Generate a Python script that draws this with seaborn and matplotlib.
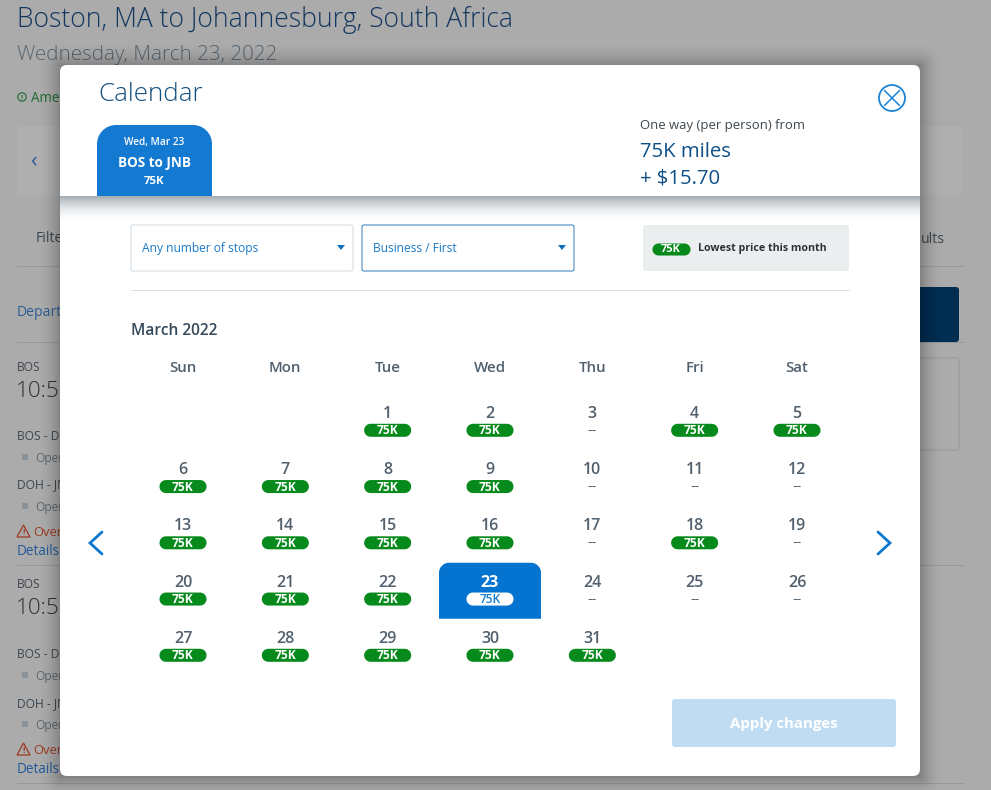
import numpy as np
import pandas as pd
import matplotlib
matplotlib.use("Agg")
import matplotlib.pyplot as plt
from matplotlib.patches import FancyBboxPatch, Rectangle, Circle, Polygon, PathPatch
from matplotlib.path import Path
import seaborn as sns

# ---- data ----
month_title = "March 2022"
weekdays = ["Sun", "Mon", "Tue", "Wed", "Thu", "Fri", "Sat"]
days = list(range(1, 32))
priced_days = [1, 2, 4, 5, 6, 7, 8, 9, 13, 14, 15, 16, 18, 20, 21, 22, 23, 27, 28, 29, 30, 31]
selected_day = 23
first_weekday = 2
price_label = "75K"
no_price_label = "--"

title = "Boston, MA to Johannesburg, South Africa"
subtitle = "Wednesday, March 23, 2022"
fare_lines = ["75K miles", "+ $15.70"]
stops_label = "Any number of stops"
cabin_label = "Business / First"

# ---- style ----
sns.set_theme(style="white")
plt.rcParams["font.family"] = ["Open Sans", "DejaVu Sans"]
FONT_PX = 0.72
LINE_PX = 0.6

fig = plt.figure(figsize=(9.91, 7.90), dpi=100)
ax = fig.add_axes([0, 0, 1, 1])
ax.set_axis_off()
W, H = 991, 790
BG = "#ababab"
fig.patch.set_facecolor(BG)


def txt(x, y, s, px, color, z=2, ha="left", weight="normal", **kw):
    return ax.text(x, y + 1.8, s, fontsize=px * FONT_PX, color=color, ha=ha, va="center",
                   fontweight=weight, zorder=z, **kw)


def rrect(x0, y0, x1, y1, r, fc, ec="none", lw=0, z=2):
    p = FancyBboxPatch((x0 + r, y0 + r), x1 - x0 - 2 * r, y1 - y0 - 2 * r,
                       boxstyle=f"round,pad={r},rounding_size={r}", fc=fc, ec=ec, lw=lw, zorder=z)
    ax.add_patch(p)
    return p


def top_round(x0, y0, x1, y1, r, fc, z):
    k = 0.5523 * r
    verts = [(x0, y1), (x0, y0 + r), (x0, y0 + r - k), (x0 + r - k, y0), (x0 + r, y0),
             (x1 - r, y0), (x1 - r + k, y0), (x1, y0 + r - k), (x1, y0 + r), (x1, y1), (x0, y1)]
    codes = [Path.MOVETO, Path.LINETO, Path.CURVE4, Path.CURVE4, Path.CURVE4, Path.LINETO,
             Path.CURVE4, Path.CURVE4, Path.CURVE4, Path.LINETO, Path.CLOSEPOLY]
    ax.add_patch(PathPatch(Path(verts, codes), fc=fc, ec="none", zorder=z))


# ---- dimmed page behind the dialog ----
txt(17, 18, title, 26.5, "#14375f", weight="light")
txt(17, 53, subtitle, 20.5, "#55636f", weight="light")
ax.add_patch(Circle((22, 97), 4.2, fc="none", ec="#1c6a2f", lw=0.8, zorder=2))
txt(22, 96.5, "!", 7, "#1c6a2f", ha="center", weight="bold")
txt(31, 97, "American", 13.5, "#1c6a2f")

rrect(17, 126, 963, 195, 4, "#afafaf", z=1)
txt(33, 160, "\u2039", 22, "#2a5f92", ha="center")
txt(36, 237, "Filters", 14, "#3b4650")
txt(945, 238, "ults", 14, "#3b4650", ha="right")
for yy in (266, 342, 565, 783):
    ax.plot([17, 963], [yy, yy], color="#8e979e", lw=LINE_PX, zorder=1)
txt(17, 311, "Departing", 14, "#2c5d95")
ax.add_patch(FancyBboxPatch((900, 287), 59, 55, boxstyle="round,pad=0,rounding_size=3",
                            fc="#002d52", ec="none", zorder=1))
rrect(880, 358, 959, 450, 3, "#ababab", ec="#8e979e", lw=LINE_PX, z=1)

for off, ys in ((0, (366, 390, 435, 457, 483, 506, 531, 550)),
                (1, (583, 607, 653, 675, 702, 724, 749, 768))):
    txt(17, ys[0], "BOS", 12, "#44424f")
    txt(16, ys[1], "10:50", 22.5, "#2d3034", weight="light")
    txt(17, ys[2], "BOS - DOH", 12, "#3b4650")
    ax.add_patch(Rectangle((22, ys[3] - 3), 6, 6, fc="#8a9299", ec="none", zorder=2))
    txt(35, ys[3], "Operated", 12, "#5b6770")
    txt(17, ys[4], "DOH - JNB", 12, "#3b4650")
    ax.add_patch(Rectangle((22, ys[5] - 3), 6, 6, fc="#8a9299", ec="none", zorder=2))
    txt(35, ys[5], "Operated", 12, "#5b6770")
    ax.add_patch(Polygon([(17, ys[6] + 6), (30, ys[6] + 6), (23.5, ys[6] - 6)], closed=True,
                         fc="none", ec="#9c3a22", lw=0.9, zorder=2))
    txt(23.5, ys[6] - 0.5, "!", 8, "#9c3a22", ha="center", weight="bold")
    txt(33, ys[6], "Overnight", 13, "#9c3a22")
    txt(17, ys[7], "Details", 13.5, "#22599a")

# ---- soft shadow round the dialog ----
MX0, MX1, MY0, MY1 = 60, 920, 65, 776
yy_, xx_ = np.mgrid[0:H, 0:W]
dx = np.maximum(np.maximum(MX0 - xx_, xx_ - MX1), 0)
dy = np.maximum(np.maximum(MY0 - yy_, yy_ - MY1), 0)
dist = np.hypot(dx, dy)
alpha = 0.24 * np.clip(1 - dist / 24, 0, 1) ** 2
rgba = np.zeros((H, W, 4))
rgba[..., 3] = alpha
ax.imshow(rgba, extent=(0, W, H, 0), aspect="auto", zorder=3, interpolation="bilinear")

# ---- dialog ----
rrect(MX0, MY0, MX1, MY1, 7, "white", z=4)

# shadow under the dialog header
grad = np.zeros((26, 2, 4))
grad[..., :3] = (0.36, 0.42, 0.47)
grad[..., 3] = (0.55 * np.clip(1 - np.arange(26) / 25, 0, 1) ** 1.8)[:, None]
ax.imshow(grad, extent=(MX0, MX1, 222, 196), aspect="auto", zorder=5, interpolation="bilinear")

txt(98, 93, "Calendar", 26, "#14507f", z=6, weight="light")
top_round(97, 125, 212, 196, 19, "#1479d1", 6)
txt(154.5, 141, "Wed, Mar 23", 10, "white", z=7, ha="center", weight="semibold")
txt(154.5, 161, "BOS to JNB", 13.5, "white", z=7, ha="center", weight="bold")
txt(154.5, 180, price_label, 11.5, "white", z=7, ha="center", weight="bold")

txt(640, 124, "One way (per person) from", 13.1, "#3f4850", z=6)
txt(640, 150, fare_lines[0], 20.3, "#0d4f86", z=6)
txt(640, 177, fare_lines[1], 20.3, "#0d4f86", z=6)
ax.add_patch(Circle((892, 98), 13, fc="none", ec="#1a83d6", lw=1.3, zorder=6))
ax.plot([884.5, 899.5], [90.5, 105.5], color="#1a83d6", lw=1.1, zorder=6)
ax.plot([884.5, 899.5], [105.5, 90.5], color="#1a83d6", lw=1.1, zorder=6)

rrect(131, 225, 353, 271, 2, "white", ec="#c9d5df", lw=LINE_PX, z=6)
rrect(362, 225, 574, 271, 2, "white", ec="#0f66ab", lw=LINE_PX, z=6)
txt(142, 246.5, stops_label, 12, "#1a79c8", z=7)
txt(373, 246.5, cabin_label, 12, "#1a79c8", z=7)
for tx in (341, 562):
    ax.add_patch(Polygon([(tx - 4, 245), (tx + 4, 245), (tx, 250)], closed=True,
                         fc="#0f6fbf", ec="none", zorder=7))

rrect(643, 225, 849, 271, 2, "#ebeeef", z=6)
txt(698, 246.5, "Lowest price this month", 10.6, "#2d3238", z=7, weight="bold")
ax.plot([131, 849], [290, 290], color="#cfdbe3", lw=LINE_PX, zorder=6)

txt(131, 329, month_title, 15.5, "#36495a", z=7, weight="semibold")

# ---- calendar table ----
COL0, COL_STEP = 183, 102.33
ROW0, ROW_STEP = 412, 56.25
PILL_DY = 18.3
cal = pd.DataFrame({"day": days})
cal["col"] = (cal["day"] - 1 + first_weekday) % 7
cal["row"] = (cal["day"] - 1 + first_weekday) // 7
cal["x"] = COL0 + cal["col"] * COL_STEP
cal["y"] = ROW0 + cal["row"] * ROW_STEP
cal["priced"] = cal["day"].isin(priced_days)
cal["state"] = np.where(cal["day"] == selected_day, "selected",
                        np.where(cal["priced"], "low", "none"))

for i, name in enumerate(weekdays):
    txt(COL0 + i * COL_STEP, 366, name, 15, "#51606e", z=7, ha="center", weight="semibold")

sel = cal[cal["day"] == selected_day].iloc[0]
top_round(sel["x"] - 51, sel["y"] - 18, sel["x"] + 51, sel["y"] + 38, 10, "#0574d0", 6)


def pill_marker(w, h):
    """A stadium shape, usable as a scatter marker."""
    r = h / 2
    a = np.linspace(np.pi / 2, -np.pi / 2, 14)
    right = np.c_[w / 2 - r + r * np.cos(a), r * np.sin(a)]
    left = np.c_[-w / 2 + r - r * np.cos(a), -r * np.sin(a)]
    v = np.vstack([right, left, right[:1]])
    return Path(v, closed=True)


PALETTE = {"low": "#078a1c", "selected": "#ffffff"}
pills = cal[cal["priced"]].assign(py=lambda d: d["y"] + PILL_DY)
PILL_PT = 47 * FONT_PX
sns.scatterplot(data=pills, x="x", y="py", hue="state", palette=PALETTE, s=PILL_PT ** 2,
                marker=pill_marker(47, 13), linewidth=0, legend=False, ax=ax, zorder=7)
legend_df = pd.DataFrame({"x": [671], "y": [249], "state": ["low"]})
sns.scatterplot(data=legend_df, x="x", y="y", hue="state", palette=PALETTE, s=(38 * FONT_PX) ** 2,
                marker=pill_marker(38, 12), linewidth=0, legend=False, ax=ax, zorder=7)
txt(671, 247.5, price_label, 11, "white", z=8, ha="center", weight="bold")

for r in cal.itertuples():
    is_sel = r.day == selected_day
    txt(r.x, r.y, str(r.day), 16, "white" if is_sel else "#51606e", z=8, ha="center",
        weight="bold" if is_sel else "semibold")
    if r.priced:
        txt(r.x, r.y + PILL_DY - 1.3, price_label, 12, "#0f78cf" if is_sel else "white", z=8,
            ha="center", weight="semibold" if is_sel else "bold")
    else:
        txt(r.x, r.y + PILL_DY - 1.8, no_price_label, 13, "#51606e", z=8, ha="center",
            family="DejaVu Sans")

# month arrows
ax.plot([102, 90, 102], [532, 543, 554], color="#0b78d1", lw=2.0, zorder=7,
        solid_capstyle="round", solid_joinstyle="miter")
ax.plot([878, 890, 878], [532, 543, 554], color="#0b78d1", lw=2.0, zorder=7,
        solid_capstyle="round", solid_joinstyle="miter")

rrect(672, 699, 896, 747, 3, "#bfdcf3", z=6)
txt(784, 722, "Apply changes", 15, "white", z=7, ha="center", weight="bold")

ax.set_xlim(0, W)
ax.set_ylim(H, 0)
ax.set_xlabel("")
ax.set_ylabel("")
ax.set_axis_off()
fig.savefig("out.png", dpi=100, facecolor=BG)
